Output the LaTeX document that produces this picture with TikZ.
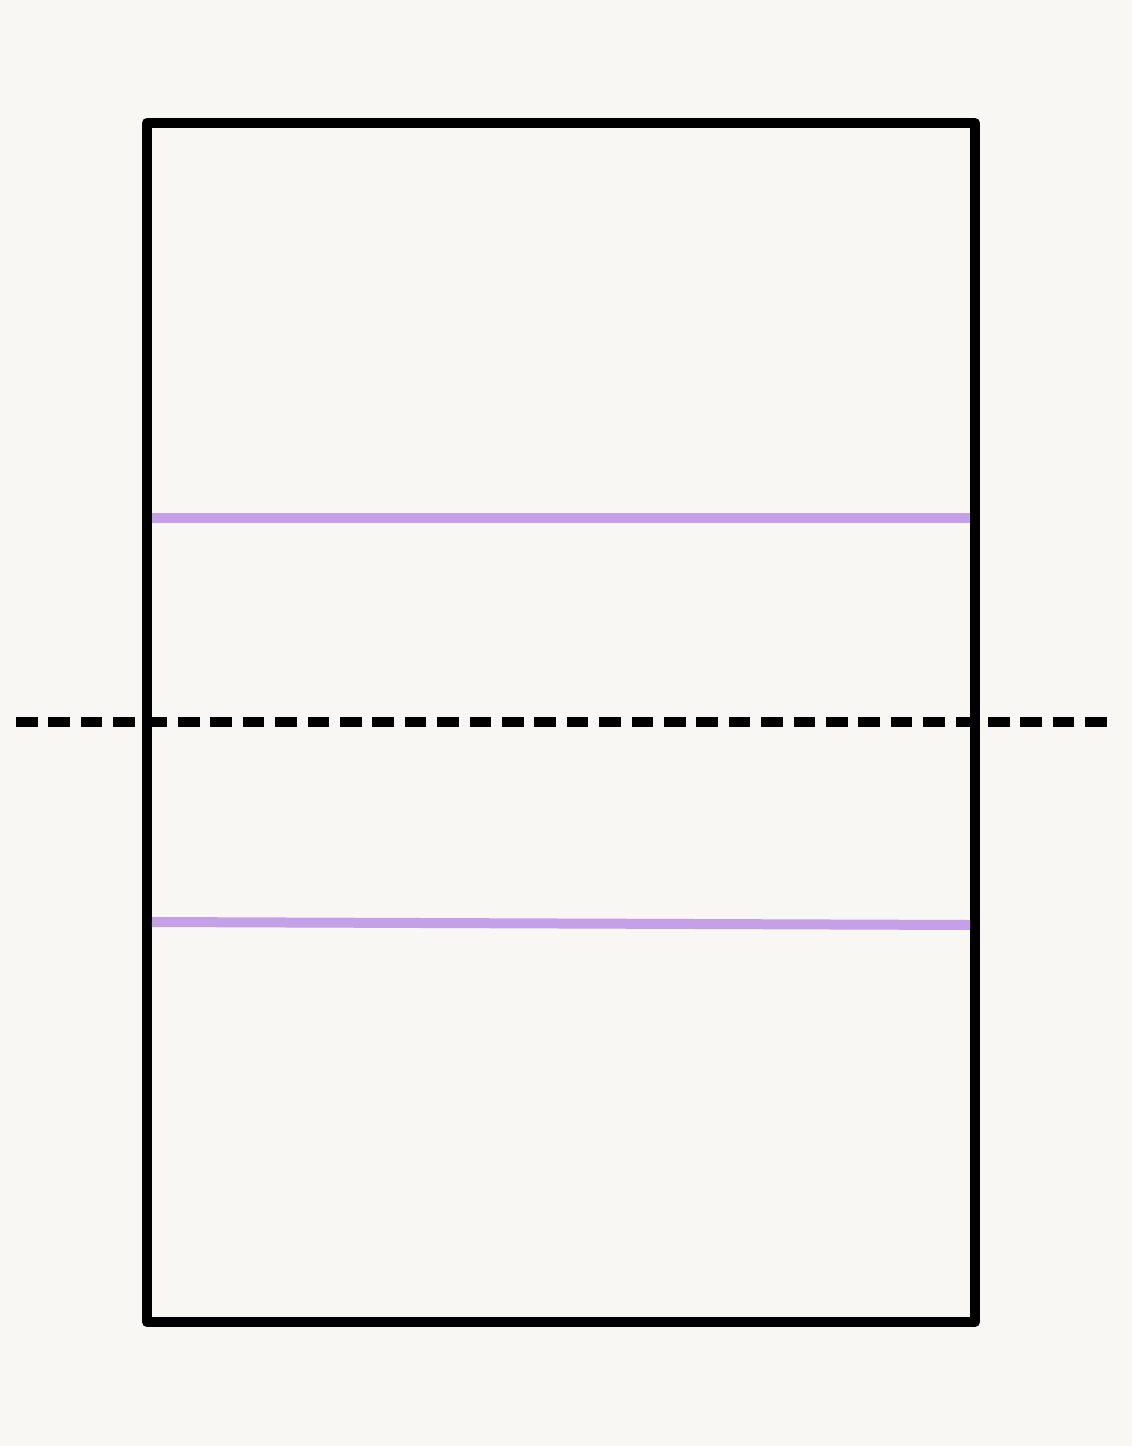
\documentclass[tikz,border=0pt]{standalone}
\definecolor{paper}{HTML}{F9F7F3}
\definecolor{lav}{HTML}{C3A0E8}
\begin{document}
\begin{tikzpicture}[x=1pt,y=-1pt,
  frame/.style={line width=10pt,line join=round,draw=black},
  band/.style={line width=10pt,draw=lav},
  fold/.style={line width=10pt,draw=black,dash pattern=on 21.5pt off 10.9pt}]
\fill[paper] (0,0) rectangle (1132,1446);
\useasboundingbox (0,0) rectangle (1132,1446);
\coordinate (tl) at (147,123);
\coordinate (br) at (975,1322);
\draw[frame] (tl) rectangle (br);
\coordinate (u1) at (152,517.5);
\coordinate (u2) at (970,517.5);
\draw[band] (u1) -- (u2);
\coordinate (l1) at (152,922);
\coordinate (l2) at (970,925);
\draw[band] (l1) -- (l2);
\coordinate (d1) at (16,722);
\coordinate (d2) at (1107,722);
\draw[fold] (d1) -- (d2);
\end{tikzpicture}
\end{document}
